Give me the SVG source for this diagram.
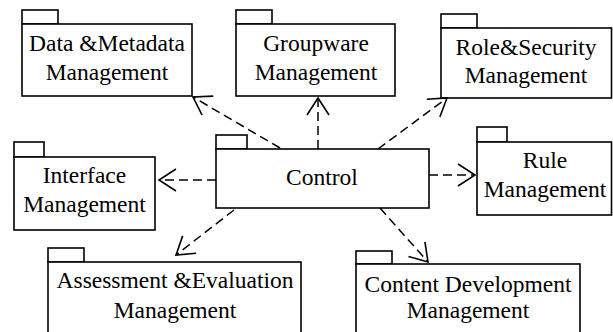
<svg xmlns="http://www.w3.org/2000/svg" width="613" height="332" viewBox="0 0 613 332">
<style>
.box{fill:#fff;stroke:#000;stroke-width:1.6}
.t{font-family:"Liberation Serif","Times New Roman",serif;font-size:23.5px;fill:#000;text-anchor:middle}
.c{fill:none;stroke:#000;stroke-width:1.5;stroke-dasharray:9,5}
</style>
<defs>
<marker id="arr" markerUnits="userSpaceOnUse" markerWidth="30" markerHeight="30" refX="0" refY="0" viewBox="-20 -15 25 30" orient="auto">
<path d="M-17,-11 L0,0 L-17,11" fill="none" stroke="#000" stroke-width="1.6"/>
</marker>
</defs>
<rect width="613" height="332" fill="#fff"/>
<g id="data">
<rect class="box" x="22" y="10" width="36" height="14"/>
<rect class="box" x="22" y="24" width="170" height="72"/>
<text class="t" x="107" y="51">Data &amp;Metadata</text>
<text class="t" x="107" y="80">Management</text>
</g>
<g id="groupware">
<rect class="box" x="236" y="10" width="36" height="14"/>
<rect class="box" x="236" y="24" width="159" height="72"/>
<text class="t" x="316" y="51">Groupware</text>
<text class="t" x="316" y="80">Management</text>
</g>
<g id="role">
<rect class="box" x="441" y="14" width="36" height="14"/>
<rect class="box" x="441" y="28" width="170.5" height="70"/>
<text class="t" x="526" y="55">Role&amp;Security</text>
<text class="t" x="526" y="83">Management</text>
</g>
<g id="interface">
<rect class="box" x="14" y="142" width="30" height="15"/>
<rect class="box" x="14" y="157" width="141" height="73"/>
<text class="t" x="84.5" y="183">Interface</text>
<text class="t" x="84.5" y="212">Management</text>
</g>
<g id="control">
<rect class="box" x="216" y="135" width="31" height="14"/>
<rect class="box" x="216" y="149" width="213" height="59"/>
<text class="t" x="322" y="185">Control</text>
</g>
<g id="rule">
<rect class="box" x="477" y="127" width="30" height="15"/>
<rect class="box" x="477" y="142" width="134.5" height="73"/>
<text class="t" x="545" y="168">Rule</text>
<text class="t" x="545" y="197">Management</text>
</g>
<g id="assessment">
<rect class="box" x="48" y="248" width="36" height="14"/>
<rect class="box" x="48" y="262" width="253" height="80"/>
<text class="t" x="175" y="288">Assessment &amp;Evaluation</text>
<text class="t" x="175" y="318">Management</text>
</g>
<g id="content">
<rect class="box" x="356" y="251" width="36" height="13"/>
<rect class="box" x="356" y="264" width="224" height="80"/>
<text class="t" x="468" y="292">Content Development</text>
<text class="t" x="468" y="318">Management</text>
</g>
<g id="connectors">
<line class="c" x1="280" y1="148" x2="193" y2="97" marker-end="url(#arr)"/>
<line class="c" x1="318" y1="149" x2="318" y2="98" marker-end="url(#arr)"/>
<line class="c" x1="378" y1="149" x2="447" y2="98" marker-end="url(#arr)"/>
<line class="c" x1="216" y1="180" x2="159" y2="180" marker-end="url(#arr)"/>
<line class="c" x1="429" y1="175" x2="475" y2="175" marker-end="url(#arr)"/>
<line class="c" x1="234" y1="210" x2="176" y2="255" marker-end="url(#arr)"/>
<line class="c" x1="380" y1="208" x2="428" y2="262" marker-end="url(#arr)"/>
</g>
</svg>
